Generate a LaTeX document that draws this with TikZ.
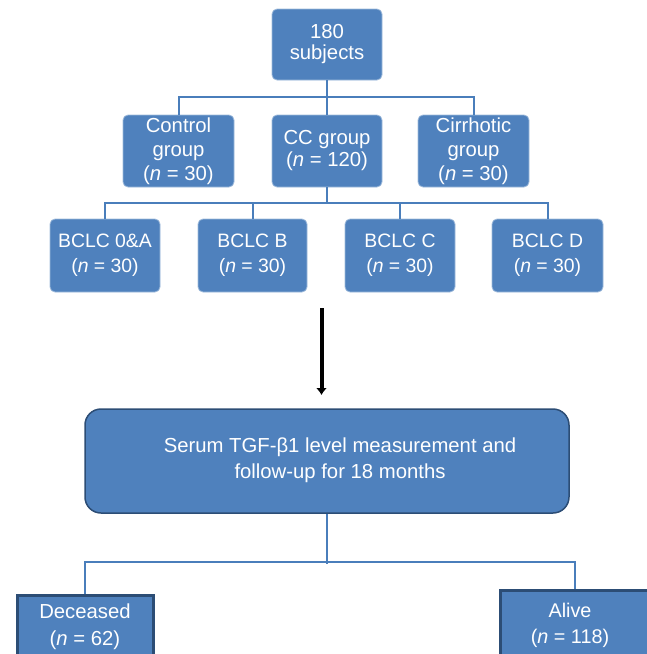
\documentclass[tikz,border=0pt]{standalone}
\usepackage{fontspec}
\setmainfont{Liberation Sans}
\usetikzlibrary{arrows.meta}
\definecolor{boxblue}{HTML}{4F81BD}
\definecolor{lineblue}{HTML}{4A7EBB}
\definecolor{navy}{HTML}{2C4D75}
\begin{document}
\begin{tikzpicture}[x=1pt,y=-1pt,
  box/.style={fill=boxblue, draw=boxblue!55!white, line width=0.8pt, rounded corners=5pt,
    text=white, align=center, inner sep=0pt, font=\fontsize{20.3}{24}\selectfont},
  bigbox/.style={fill=boxblue, draw=navy, line width=1.5pt, rounded corners=16pt,
    minimum width=484pt, minimum height=104pt},
  bigtext/.style={text=white, align=center, inner sep=0pt, font=\fontsize{20.3}{26}\selectfont},
  outbox/.style={fill=boxblue, draw=navy, line width=3pt, text=white, align=center,
    inner sep=0pt, font=\fontsize{20.3}{27}\selectfont},
  conn/.style={draw=lineblue, line width=2pt},
  flowarrow/.style={draw=black, line width=4pt, -{Latex[length=7pt,width=11pt]}}
  ]
\path[use as bounding box] (0,0) rectangle (647,654);
\clip (0,0) rectangle (647,654);

\node[box, minimum width=110pt, minimum height=71pt, font=\fontsize{20.3}{21}\selectfont] (top) at (327,44.5) {180\\subjects};

\node[box, minimum width=111pt, minimum height=72pt] (ctrl) at (178.5,151) {Control\\group\\(\textit{n} = 30)};
\node[box, minimum width=110pt, minimum height=72pt, font=\fontsize{20.3}{22}\selectfont] (cc) at (327,151) {CC group\\(\textit{n} = 120)};
\node[box, minimum width=111pt, minimum height=72pt] (cirr) at (473.5,151) {Cirrhotic\\group\\(\textit{n} = 30)};

\node[box, minimum width=110pt, minimum height=73pt, font=\fontsize{19.4}{25}\selectfont] (b1) at (105,255.5) {BCLC 0\&A\\(\textit{n} = 30)};
\node[box, minimum width=109pt, minimum height=73pt, font=\fontsize{19.4}{25}\selectfont] (b2) at (252.5,255.5) {BCLC B\\(\textit{n} = 30)};
\node[box, minimum width=110pt, minimum height=73pt, font=\fontsize{19.4}{25}\selectfont] (b3) at (400,255.5) {BCLC C\\(\textit{n} = 30)};
\node[box, minimum width=111pt, minimum height=73pt, font=\fontsize{19.4}{25}\selectfont] (b4) at (547.5,255.5) {BCLC D\\(\textit{n} = 30)};

\coordinate (a1) at (321.5,308);
\coordinate (a2) at (321.5,395);
\draw[flowarrow] (a1) -- (a2);

\node[bigbox] (big) at (327,461) {};
\node[bigtext] (bigt) at (340,460) {Serum TGF-β1 level measurement and\\follow-up for 18 months};

\node[outbox, minimum width=136pt, minimum height=62pt] (dec) at (85,626.5) {Deceased\\(\textit{n} = 62)};
\node[outbox, minimum width=150pt, minimum height=70pt, font=\fontsize{19.8}{26}\selectfont] (alive) at (575,625) {\hspace*{-10pt}Alive\\\hspace*{-10pt}(\textit{n} = 118)};

% connectors
\draw[conn] (top.south) -- (cc.north);
\draw[conn] (ctrl.north) -- ++(0,-18) -| (cirr.north);
\draw[conn] (cc.south) -- ++(0,16);
\draw[conn] (b1.north) -- ++(0,-16) -| (b4.north);
\draw[conn] (b2.north) -- ++(0,-16);
\draw[conn] (b3.north) -- ++(0,-16);
\draw[conn] (big.south) -- ++(0,50);
\draw[conn] (dec.north) -- ++(0,-32.5) -| (alive.north);
\end{tikzpicture}
\end{document}
